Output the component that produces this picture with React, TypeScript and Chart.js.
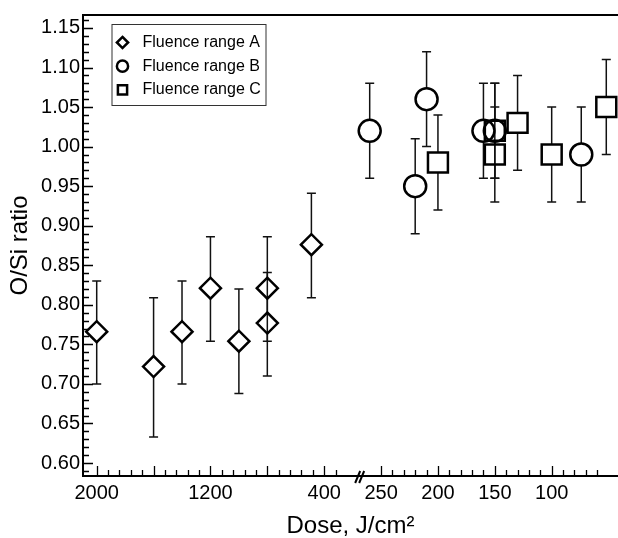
import React, { useEffect, useRef } from 'react';
import { Chart, registerables } from 'chart.js';

Chart.register(...registerables);

// ---- Data ----
const doseA = [2000, 1600, 1400, 1200, 1000, 800, 800, 490];
const ratioA = [0.766, 0.722, 0.766, 0.821, 0.754, 0.821, 0.777, 0.876];
const lowA = [0.70, 0.633, 0.70, 0.754, 0.688, 0.754, 0.71, 0.809];
const highA = [0.83, 0.809, 0.83, 0.886, 0.82, 0.886, 0.841, 0.941];

const doseB = [260, 220, 210, 160, 150, 74];
const ratioB = [1.02, 0.95, 1.06, 1.02, 1.02, 0.99];
const lowB = [0.96, 0.89, 1.0, 0.96, 0.96, 0.93];
const highB = [1.08, 1.01, 1.12, 1.08, 1.08, 1.05];

const doseC = [200, 150, 150, 130, 100, 52];
const ratioC = [0.98, 0.99, 1.02, 1.03, 0.99, 1.05];
const lowC = [0.92, 0.93, 0.96, 0.97, 0.93, 0.99];
const highC = [1.04, 1.05, 1.08, 1.09, 1.05, 1.11];

const seriesNames = ['Fluence range A', 'Fluence range B', 'Fluence range C'];
const xTickDoses = [2000, 1200, 400, 250, 200, 150, 100];
const yTickValues = [0.6, 0.65, 0.7, 0.75, 0.8, 0.85, 0.9, 0.95, 1.0, 1.05, 1.1, 1.15];

const FONT = "'Liberation Sans', Arial, Helvetica, sans-serif";
const BREAK_U = 4.65;

// broken axis: left segment 2000..(break) step 400 per unit, right segment 250.. step 50 per unit
function doseToU(d: number): number {
  return d >= 300 ? (2000 - d) / 400 : 5 + (250 - d) / 50;
}

const series = [
  { dose: doseA, ratio: ratioA, low: lowA, high: highA, style: 'rectRot', radius: 10.5, half: 10.5 },
  { dose: doseB, ratio: ratioB, low: lowB, high: highB, style: 'circle', radius: 11, half: 11 },
  { dose: doseC, ratio: ratioC, low: lowC, high: highC, style: 'rect', radius: 14.1, half: 10 },
];

const errorBarPlugin = {
  id: 'errorBars',
  beforeDatasetsDraw(chart: any) {
    const { ctx } = chart;
    const x = chart.scales.x;
    const y = chart.scales.y;
    ctx.save();
    ctx.strokeStyle = '#111';
    ctx.lineWidth = 1.5;
    series.forEach((s) => {
      s.dose.forEach((d, j) => {
        const px = x.getPixelForValue(doseToU(d));
        const pc = y.getPixelForValue(s.ratio[j]);
        const ph = y.getPixelForValue(s.high[j]);
        const pl = y.getPixelForValue(s.low[j]);
        ctx.beginPath();
        ctx.moveTo(px, ph);
        ctx.lineTo(px, pc - s.half);
        ctx.moveTo(px, pc + s.half);
        ctx.lineTo(px, pl);
        ctx.moveTo(px - 4.5, ph);
        ctx.lineTo(px + 4.5, ph);
        ctx.moveTo(px - 4.5, pl);
        ctx.lineTo(px + 4.5, pl);
        ctx.stroke();
      });
    });
    ctx.restore();
  },
};

function drawMarker(ctx: CanvasRenderingContext2D, style: string, cx: number, cy: number, r: number) {
  ctx.beginPath();
  if (style === 'circle') {
    ctx.arc(cx, cy, r, 0, Math.PI * 2);
  } else if (style === 'rectRot') {
    ctx.moveTo(cx, cy - r);
    ctx.lineTo(cx + r, cy);
    ctx.lineTo(cx, cy + r);
    ctx.lineTo(cx - r, cy);
    ctx.closePath();
  } else {
    ctx.rect(cx - r, cy - r, 2 * r, 2 * r);
  }
  ctx.stroke();
}

const framePlugin = {
  id: 'frame',
  afterDraw(chart: any) {
    const { ctx, chartArea } = chart;
    const { left, right, top, bottom } = chartArea;
    const x = chart.scales.x;
    const y = chart.scales.y;
    ctx.save();
    ctx.strokeStyle = '#000';
    // top frame line
    ctx.lineWidth = 2;
    ctx.beginPath();
    ctx.moveTo(left - 1, top);
    ctx.lineTo(right, top);
    ctx.stroke();

    // inward ticks
    ctx.lineWidth = 1.3;
    ctx.beginPath();
    for (let i = 59; i <= 116; i++) {
      const py = Math.round(y.getPixelForValue(i / 100)) + 0.5;
      const len = i % 5 === 0 ? 10 : 6;
      ctx.moveTo(left, py);
      ctx.lineTo(left + len, py);
    }
    for (let d = 2000; doseToU(d) <= BREAK_U - 0.2; d -= 80) {
      const px = Math.round(x.getPixelForValue(doseToU(d))) + 0.5;
      const len = (2000 - d) % 400 === 0 ? 10 : 6;
      ctx.moveTo(px, bottom);
      ctx.lineTo(px, bottom - len);
    }
    for (let d = 250; d >= 60; d -= 10) {
      const px = Math.round(x.getPixelForValue(doseToU(d))) + 0.5;
      const len = d % 50 === 0 ? 10 : 6;
      ctx.moveTo(px, bottom);
      ctx.lineTo(px, bottom - len);
    }
    ctx.stroke();

    // axis break marks
    const xb = x.getPixelForValue(BREAK_U);
    ctx.lineWidth = 2;
    ctx.beginPath();
    [-6, -2].forEach((o) => {
      ctx.moveTo(xb + o, bottom + 7);
      ctx.lineTo(xb + o + 5, bottom - 5);
    });
    ctx.stroke();

    // legend box
    const bx = left + 28.5;
    const by = top + 9;
    ctx.lineWidth = 1;
    ctx.strokeStyle = '#333';
    ctx.strokeRect(bx + 0.5, by + 0.5, 154, 81);
    ctx.strokeStyle = '#000';
    ctx.fillStyle = '#000';
    ctx.font = `16px ${FONT}`;
    ctx.textBaseline = 'middle';
    ctx.textAlign = 'left';
    const sizes = [5.6, 5.6, 4.6];
    series.forEach((s, i) => {
      const cy = by + 18.5 + i * 23.7;
      ctx.lineWidth = 2.5;
      drawMarker(ctx, s.style, bx + 11, cy, sizes[i]);
      ctx.fillText(seriesNames[i], bx + 31, cy);
    });
    ctx.restore();
  },
};

export default function App() {
  const canvasRef = useRef<HTMLCanvasElement | null>(null);

  useEffect(() => {
    const canvas = canvasRef.current;
    if (!canvas) return;
    const chart = new Chart(canvas, {
      type: 'scatter',
      data: {
        datasets: series.map((s, i) => ({
          label: seriesNames[i],
          data: s.dose.map((d, j) => ({ x: doseToU(d), y: s.ratio[j] })),
          pointStyle: s.style as any,
          pointRadius: s.radius,
          pointHoverRadius: s.radius,
          pointBorderWidth: 2.5,
          pointHoverBorderWidth: 2.5,
          borderColor: '#000',
          backgroundColor: 'rgba(0,0,0,0)',
          showLine: false,
        })),
      },
      options: {
        responsive: false,
        animation: false,
        devicePixelRatio: 1,
        layout: { autoPadding: false, padding: { top: 15, left: 0, right: 0, bottom: 0 } },
        plugins: {
          legend: { display: false },
          tooltip: { enabled: false },
        },
        events: [],
        scales: {
          x: {
            type: 'linear',
            position: 'bottom',
            min: -0.241,
            max: 9.166,
            afterBuildTicks: (s: any) => {
              s.ticks = xTickDoses.map((d) => ({ value: doseToU(d) }));
            },
            afterFit: (s: any) => {
              s.height = 62;
              s.paddingLeft = 0;
              s.paddingRight = 0;
            },
            grid: { display: false, drawTicks: false },
            border: { display: true, color: '#000', width: 2 },
            ticks: {
              autoSkip: false,
              maxRotation: 0,
              padding: 5,
              color: '#000',
              font: { size: 20, family: FONT },
              callback: (v: any) => {
                const d = xTickDoses.find((t) => Math.abs(doseToU(t) - Number(v)) < 1e-6);
                return d === undefined ? '' : String(d);
              },
            },
            title: {
              display: true,
              text: 'Dose, J/cm²',
              color: '#000',
              font: { size: 24, family: FONT, lineHeight: 1.0 },
              padding: { top: 0, bottom: 0 },
            },
          },
          y: {
            type: 'linear',
            min: 0.5836,
            max: 1.1664,
            afterBuildTicks: (s: any) => {
              s.ticks = yTickValues.map((v) => ({ value: v }));
            },
            afterFit: (s: any) => {
              s.width = 83;
              s.paddingTop = 0;
              s.paddingBottom = 0;
            },
            grid: { display: false, drawTicks: false },
            border: { display: true, color: '#000', width: 2 },
            ticks: {
              padding: 3,
              color: '#000',
              font: { size: 20, family: FONT },
              callback: (v: any) => Number(v).toFixed(2),
            },
            title: {
              display: true,
              text: 'O/Si ratio',
              color: '#000',
              font: { size: 24, family: FONT },
              padding: { top: 6, bottom: 0 },
            },
          },
        },
      },
      plugins: [errorBarPlugin, framePlugin],
    });
    return () => chart.destroy();
  }, []);

  return (
    <div style={{ position: 'absolute', left: 0, top: 0, width: 618, height: 538, overflow: 'hidden', background: '#fff' }}>
      <canvas ref={canvasRef} width={618} height={538} style={{ width: 618, height: 538 }} />
    </div>
  );
}
